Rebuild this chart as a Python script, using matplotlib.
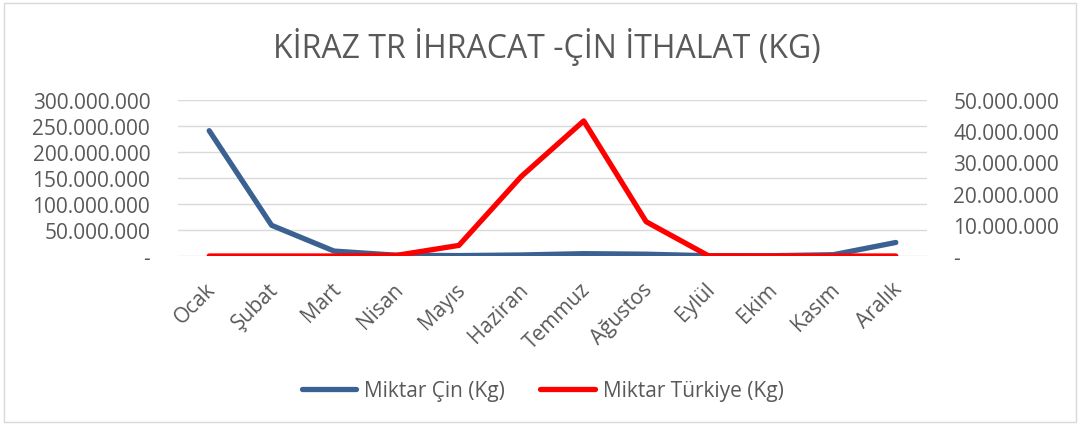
import matplotlib.pyplot as plt
from matplotlib.patches import Rectangle
from matplotlib.ticker import FuncFormatter
from matplotlib.transforms import ScaledTranslation

months = ["Ocak", "Şubat", "Mart", "Nisan", "Mayıs", "Haziran",
          "Temmuz", "Ağustos", "Eylül", "Ekim", "Kasım", "Aralık"]
# values, in kg
cin = [241e6, 59e6, 9.5e6, 1.5e6, 0.8e6, 2e6, 4.5e6, 3.5e6, 0.5e6, 0.5e6, 2.5e6, 26e6]
turkiye = [0, 0, 0, 0.2e6, 3.4e6, 25.5e6, 43.3e6, 11e6, 0.05e6, 0, 0, 0]

left_ticks = [0, 50e6, 100e6, 150e6, 200e6, 250e6, 300e6]
right_ticks = [0, 10e6, 20e6, 30e6, 40e6, 50e6]

GREY = "#595959"
plt.rcParams['font.family'] = ['Open Sans', 'DejaVu Sans']


def tr_fmt(v, pos):
    if v == 0:
        return "-"
    return f"{int(round(v)):,}".replace(",", ".")


fig = plt.figure(figsize=(10.81, 4.27), dpi=100)
fig.patches.append(Rectangle((4 / 1081, 4 / 427), 1072 / 1081, 419 / 427,
                             transform=fig.transFigure, fill=False,
                             edgecolor="#D9D9D9", linewidth=1))

ax = fig.add_axes((178 / 1081, 170 / 427, 749 / 1081, 156 / 427))
ax2 = ax.twinx()

x = range(len(months))
ax.plot(x, cin, color="#3A6191", lw=3.8, solid_capstyle="round",
        solid_joinstyle="round", label="Miktar Çin (Kg)")
ax2.plot(x, turkiye, color="#FF0000", lw=3.8, solid_capstyle="round",
         solid_joinstyle="round", label="Miktar Türkiye (Kg)")

ax.set_xlim(-0.5, 11.5)
ax.set_ylim(0, 300e6)
ax2.set_ylim(0, 50e6)
ax.set_yticks(left_ticks)
ax2.set_yticks(right_ticks)
ax.yaxis.set_major_formatter(FuncFormatter(tr_fmt))
ax2.yaxis.set_major_formatter(FuncFormatter(tr_fmt))
ax.grid(axis="y", color="#D9D9D9", lw=1)
ax.set_axisbelow(True)

for a in (ax, ax2):
    for s in a.spines.values():
        s.set_visible(False)
ax.tick_params(axis="y", length=0, pad=20, labelsize=15, labelcolor=GREY)
ax2.tick_params(axis="y", length=0, pad=19, labelsize=15, labelcolor=GREY)

ax.set_xticks(list(x))
ax.set_xticklabels(months, rotation=45, ha="right", va="top",
                   rotation_mode="anchor")
ax.tick_params(axis="x", length=0, pad=16, labelsize=15, labelcolor=GREY)
shift = ScaledTranslation(-4 / 100, 0, fig.dpi_scale_trans)
for lab in ax.get_xticklabels():
    lab.set_transform(lab.get_transform() + shift)

fig.text(0.506, 1 - 47 / 427, "KİRAZ TR İHRACAT -ÇİN İTHALAT (KG)",
         ha="center", va="center", fontsize=23, color=GREY)

h1, l1 = ax.get_legend_handles_labels()
h2, l2 = ax2.get_legend_handles_labels()
fig.legend(h1 + h2, l1 + l2, loc="center", bbox_to_anchor=(0.502, 1 - 392 / 427),
           ncol=2, frameon=False, fontsize=15, labelcolor=GREY,
           handlelength=2.6, handletextpad=0.4, columnspacing=1.7)

fig.savefig("out.png", dpi=100)
